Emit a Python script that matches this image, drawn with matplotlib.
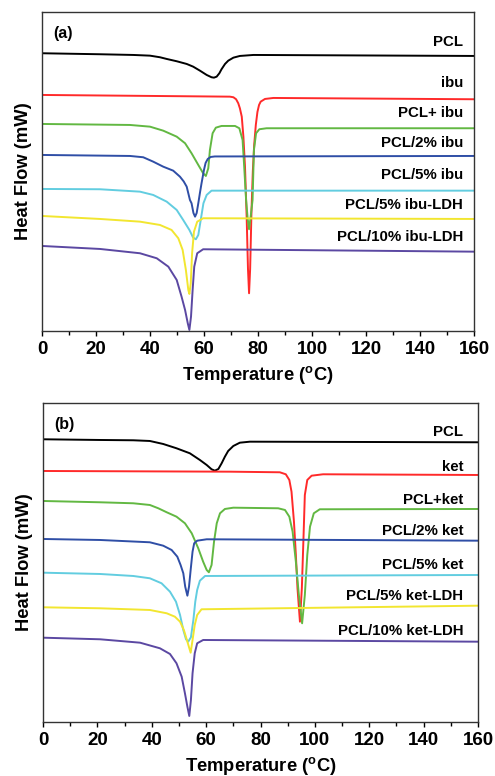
import matplotlib
matplotlib.use('Agg')
import matplotlib.pyplot as plt
from matplotlib.ticker import MultipleLocator

plt.rcParams['font.family'] = ['Liberation Sans', 'DejaVu Sans']
plt.rcParams['font.weight'] = 'bold'
plt.rcParams['mathtext.fontset'] = 'custom'
plt.rcParams['mathtext.bf'] = 'Liberation Sans:bold'
plt.rcParams['mathtext.rm'] = 'Liberation Sans:bold'

colors = ['black', '#ff2a2a', '#62b842', '#2f4ea6', '#62cde0', '#f2e630', '#5b48a2']

# ---- panel (a): ibuprofen series (heat flow in arbitrary units, stacked) ----
labels_a = ['PCL', 'ibu', 'PCL+ ibu', 'PCL/2% ibu', 'PCL/5% ibu',
            'PCL/5% ibu-LDH', 'PCL/10% ibu-LDH']
label_y_a = [289.3, 248.3, 217.7, 188.3, 156, 126, 93.7]

pcl_a_T = [0, 21.5, 33.8, 40, 43.7, 46.2, 49.9, 53.6, 56, 58.5, 61, 62.8, 63.7, 64.7,
           65.7, 66.5, 67.8, 69, 70.9, 73.3, 78.3, 160]
pcl_a_H = [277.7, 276.7, 276, 275.3, 273.7, 272, 269.7, 267, 264.3, 260.3, 256, 253.7, 253.3, 254.3,
           257.7, 261.7, 267, 270.3, 273.3, 275, 276, 275]

ibu_T = [0, 69.6, 70.9, 71.9, 72.7, 73.3, 74, 74.6, 75.2, 75.8, 76.3, 76.7, 77.1, 77.6,
         78.1, 78.6, 79.2, 79.8, 80.4, 81, 82.6, 85.7, 160]
ibu_H = [236, 234.3, 233.7, 231.7, 227.7, 222.7, 214.3, 194.3, 164, 115, 62, 37.7, 62, 120,
         160, 186, 206, 219, 226, 229.3, 232, 233, 231.7]

pcl_ibu_T = [0, 32.6, 40, 44.9, 49.9, 53, 55.4, 57.9, 59.7, 60.7, 61.6, 62.2, 63.2, 64.4,
             66.5, 71.5, 73.1, 74.3, 74.9, 75.6, 76.2, 76.7, 77.2, 78, 78.5, 79.3, 80.5,
             83.2, 160]
pcl_ibu_H = [207, 206, 204.3, 200.3, 194.3, 187.7, 177.7, 166, 157.7, 155, 162.7, 181, 197.7, 203.3,
             205, 205, 202.7, 191, 164.3, 131, 112, 101.7, 112, 131, 181, 197.7, 201.7,
             202.7, 202.7]

pcl2_ibu_T = [0, 32.6, 37.5, 41.2, 44.9, 48.6, 51.1, 52.5, 53.6, 54.8, 55.4, 56.1, 56.7,
              57.3, 57.9, 58.5, 59.1, 60, 60.6, 61.4, 62.5, 64, 160]
pcl2_ibu_H = [176, 175, 173.7, 169.3, 164.3, 160.3, 154.3, 149.5, 144.3, 131, 127.7, 118, 114.3,
              118, 127.7, 138, 147.7, 161, 168, 172, 174, 174.5, 175]

pcl5_ibu_T = [0, 21.5, 36.3, 41.2, 46.2, 49.9, 52.3, 54.6, 56, 57, 57.9, 58.8, 59.8, 61,
              62.8, 160]
pcl5_ibu_H = [142, 141.7, 139.3, 136, 129.3, 121, 111, 101, 93.3, 91.7, 96, 111, 127.7, 136,
              140.3, 140.3]

ldh5_ibu_T = [0, 21.5, 36.3, 43.7, 48, 50.5, 52.1, 53.3, 54.2, 54.6, 55.1, 55.6, 56.3,
              57.5, 59.7, 160]
ldh5_ibu_H = [115, 112, 109.3, 106, 101, 92.7, 81, 61, 41, 37, 47.7, 77.7, 99.3,
              109.3, 112.7, 112]

ldh10_ibu_T = [0, 21.5, 36.3, 42.5, 46.8, 49.9, 51.7, 53, 54, 54.6, 55.2, 55.8, 56.4,
               57.5, 59.7, 160]
ldh10_ibu_H = [85, 82, 77.7, 72.7, 64.3, 51, 34.3, 21, 7.7, 1, 14.3, 41, 64.3,
               77.7, 81.7, 79.3]

# ---- panel (b): ketoprofen series ----
labels_b = ['PCL', 'ket', 'PCL+ket', 'PCL/2% ket', 'PCL/5% ket',
            'PCL/5% ket-LDH', 'PCL/10% ket-LDH']
label_y_b = [290.3, 255.3, 222, 191.3, 157, 126, 91]

pcl_b_T = [0, 21, 33.2, 39.3, 44.2, 49.1, 54, 57.7, 60.2, 62, 63.2, 64.5, 65.7, 66.9,
           68.1, 70, 72.4, 76.1, 160]
pcl_b_H = [282.7, 282, 281.7, 281, 278, 273.7, 268.7, 262, 257, 252.7, 251.3, 253, 258.7, 265.3,
           271, 276, 279.3, 280.3, 279.7]

ket_T = [0, 68.8, 87.1, 89.3, 90.6, 91.4, 92.3, 93, 93.6, 94.5, 95.2, 95.8, 96.3, 97.2,
         98.8, 103, 160]
ket_H = [251, 250.3, 249.7, 247.7, 242, 230.3, 200.3, 167, 133.7, 100.3, 133.7, 183.7, 227, 242,
         246.3, 247.7, 247]

pcl_ket_T = [0, 21, 33.2, 39.3, 42.4, 45.5, 49.1, 52.2, 54.7, 57.1, 58.9, 60.2, 61, 62,
             62.9, 63.9, 65.1, 66.9, 70, 86.5, 89, 90.6, 91.8, 93, 94.1, 95.3, 96.3, 97.2,
             98.2, 99.6, 101.8, 160]
pcl_ket_H = [221, 219.7, 218.7, 217, 213.7, 209.7, 205.3, 198.7, 188.7, 173.7, 160.3, 152, 149.7, 157,
             180.3, 198.7, 208.7, 213, 214.3, 213.7, 212, 205.3, 190.3, 160.3, 127, 98.7, 127, 167,
             195.3, 208.7, 212.7, 213]

pcl2_ket_T = [0, 21, 39.3, 44.2, 47.3, 49.4, 50.6, 51.6, 52.3, 53.1, 53.7, 54.3, 55, 55.6,
              56.7, 60.2, 160]
pcl2_ket_H = [183, 182, 179.7, 176.3, 172, 165.3, 157, 148.7, 135.3, 126.3, 135.3, 152, 170.3, 178.7,
              181.3, 182.7, 181.3]

pcl5_ket_T = [0, 21, 33.2, 39.3, 43.6, 46.7, 48.9, 50.4, 51.6, 52.6, 53.4, 54.4, 55.3, 56,
              56.7, 57.7, 59.6, 160]
pcl5_ket_H = [149.3, 148, 146, 143.7, 138.7, 130.3, 120.3, 107, 92, 82.7, 80.3, 84.7, 102, 120.3,
              132, 141.3, 146, 147]

ldh5_ket_T = [0, 21, 39.3, 45.5, 48.5, 50.4, 51.8, 53.1, 54.3, 55, 55.8, 56.7, 58.3, 160]
ldh5_ket_H = [114.7, 113.7, 112, 108.7, 105.3, 100.3, 92, 80.3, 69.3, 82, 97, 107, 112.7, 116.3]

ldh10_ket_T = [0, 21, 35.7, 43, 46.7, 49.1, 51, 52.2, 53.1, 53.8, 54.4, 55, 55.8, 56.7,
               58.9, 160]
ldh10_ket_H = [84.3, 82.7, 79.3, 73.7, 68, 58.7, 45.3, 28.7, 15.3, 6, 22, 48.7, 68.7, 78.7,
               82, 80.3]

curves_a = [(pcl_a_T, pcl_a_H), (ibu_T, ibu_H), (pcl_ibu_T, pcl_ibu_H),
            (pcl2_ibu_T, pcl2_ibu_H), (pcl5_ibu_T, pcl5_ibu_H),
            (ldh5_ibu_T, ldh5_ibu_H), (ldh10_ibu_T, ldh10_ibu_H)]
curves_b = [(pcl_b_T, pcl_b_H), (ket_T, ket_H), (pcl_ket_T, pcl_ket_H),
            (pcl2_ket_T, pcl2_ket_H), (pcl5_ket_T, pcl5_ket_H),
            (ldh5_ket_T, ldh5_ket_H), (ldh10_ket_T, ldh10_ket_H)]

fig = plt.figure(figsize=(4.95, 7.76), dpi=100)
ax_a = fig.add_axes([0.0848, 0.5735, 0.8727, 0.4111])
ax_b = fig.add_axes([0.0869, 0.0696, 0.8788, 0.4111])


def draw_panel(ax, curves, labels, label_y, tag, label_x):
    for (t, h), c in zip(curves, colors):
        ax.plot(t, h, color=c, lw=1.4, solid_joinstyle='round')
    for lab, y in zip(labels, label_y):
        ax.text(label_x, y, lab, ha='right', va='center', fontsize=10.8, fontweight='bold')
    ax.text(0.025, 0.955, tag, transform=ax.transAxes, ha='left', va='top',
            fontsize=11.5, fontweight='bold')
    ax.set_xlim(0, 160)
    ax.set_ylim(0, 319)
    ax.set_yticks([])
    ax.xaxis.set_major_locator(MultipleLocator(20))
    ax.xaxis.set_minor_locator(MultipleLocator(10))
    ax.tick_params(axis='x', which='major', direction='out', length=3.5, width=1,
                   labelsize=13.5, pad=4)
    ax.tick_params(axis='x', which='minor', direction='out', length=3, width=1)
    for lbl in ax.get_xticklabels():
        lbl.set_fontweight('bold')
    for sp in ax.spines.values():
        sp.set_linewidth(1)
        sp.set_color('#333333')
    ax.set_xlabel(r'Temperature ($^{\mathbf{o}}$C)', fontsize=13.2, fontweight='bold', labelpad=4)
    ax.set_ylabel('Heat Flow (mW)', fontsize=13.2, fontweight='bold')
    ax.yaxis.set_label_coords(-0.024, 0.5)


draw_panel(ax_a, curves_a, labels_a, label_y_a, '(a)', 156)
draw_panel(ax_b, curves_b, labels_b, label_y_b, '(b)', 154.5)

fig.savefig('out.png', dpi=100)
